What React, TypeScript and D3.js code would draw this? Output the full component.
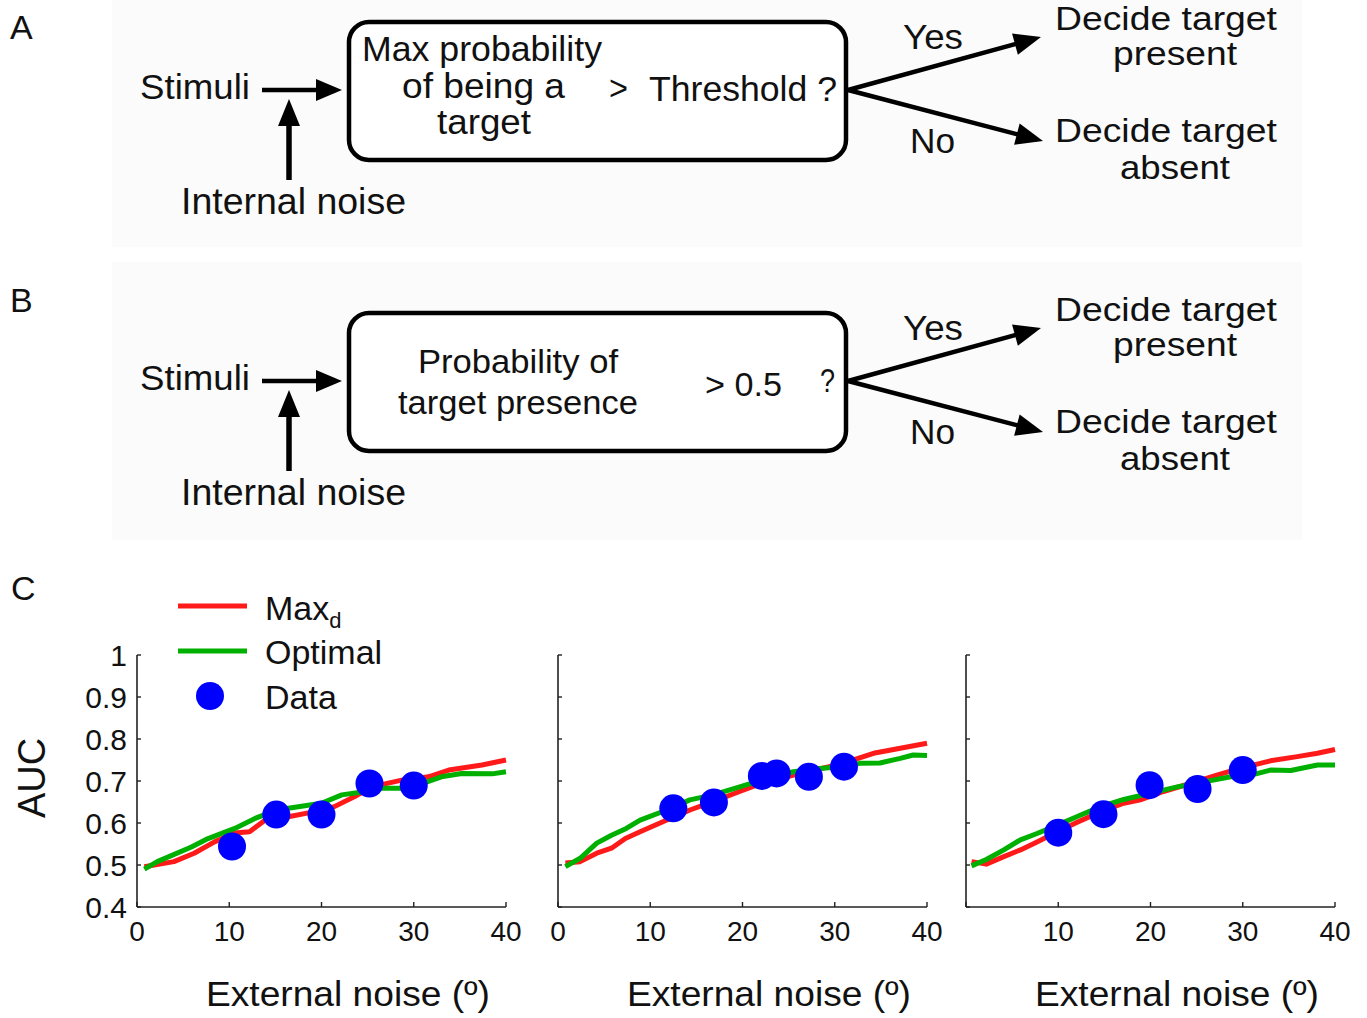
import React from "react";
import * as d3 from "d3";

// ---------- Panel C data (External noise in degrees, AUC) ----------
const xTicks = [0, 10, 20, 30, 40];
const yTicks = [0.4, 0.5, 0.6, 0.7, 0.8, 0.9, 1];
const yTickLabels = ["0.4", "0.5", "0.6", "0.7", "0.8", "0.9", "1"];

// Panel 1
const redX1 = [0.8, 4, 6.2, 8.4, 10.6, 12.2, 14.2, 16.4, 19.3, 21.4, 23.6, 25.4, 28.7, 31.6, 33.8, 37.4, 40];
const redY1 = [0.496, 0.508, 0.528, 0.555, 0.576, 0.579, 0.612, 0.615, 0.627, 0.639, 0.663, 0.686, 0.702, 0.71, 0.726, 0.738, 0.75];
const greenX1 = [0.8, 2.2, 5.9, 7.7, 10.6, 12.8, 14.2, 16.4, 20, 22.2, 24.4, 26.5, 28.7, 30.9, 33, 35.2, 38.5, 40];
const greenY1 = [0.49, 0.508, 0.543, 0.563, 0.587, 0.611, 0.623, 0.635, 0.647, 0.667, 0.674, 0.683, 0.683, 0.694, 0.71, 0.718, 0.717, 0.722];
const dataX1 = [10.3, 15.1, 20.0, 25.2, 30.0];
const dataY1 = [0.544, 0.62, 0.62, 0.694, 0.689];

// Panel 2
const redX2 = [0.8, 2.4, 4.2, 5.8, 7.3, 8.9, 11.8, 14.3, 16.8, 19.7, 21.5, 24.8, 27.7, 30.6, 34.2, 37.1, 40];
const redY2 = [0.505, 0.508, 0.528, 0.54, 0.563, 0.579, 0.607, 0.631, 0.651, 0.675, 0.69, 0.71, 0.726, 0.74, 0.766, 0.778, 0.79];
const greenX2 = [0.8, 2.4, 4.2, 5.8, 7.4, 8.9, 11.8, 14.3, 16.8, 19.7, 22.6, 25.5, 28.4, 30.6, 32.7, 34.9, 37.1, 38.5, 40];
const greenY2 = [0.496, 0.516, 0.552, 0.571, 0.587, 0.607, 0.631, 0.655, 0.667, 0.686, 0.706, 0.722, 0.73, 0.734, 0.742, 0.743, 0.754, 0.762, 0.761];
const dataX2 = [12.5, 16.9, 22.1, 23.7, 27.2, 31.0];
const dataY2 = [0.635, 0.649, 0.712, 0.718, 0.71, 0.734];

// Panel 3
const redX3 = [0.6, 2.2, 4.1, 5.9, 7.7, 9.9, 12.0, 14.6, 17.1, 18.9, 21.4, 24.3, 27.2, 29.7, 33, 35.9, 38.1, 40];
const redY3 = [0.508, 0.502, 0.52, 0.536, 0.555, 0.579, 0.601, 0.627, 0.647, 0.655, 0.675, 0.694, 0.714, 0.73, 0.748, 0.758, 0.766, 0.775];
const greenX3 = [0.6, 2.2, 4.1, 5.9, 7.7, 9.9, 12.0, 14.6, 17.1, 20, 22.9, 25.8, 28.7, 30.9, 33, 35.2, 38.1, 40];
const greenY3 = [0.498, 0.513, 0.536, 0.56, 0.575, 0.595, 0.615, 0.639, 0.656, 0.671, 0.686, 0.698, 0.71, 0.714, 0.726, 0.725, 0.738, 0.738];
const dataX3 = [10.0, 14.9, 19.9, 25.1, 30.0];
const dataY3 = [0.577, 0.621, 0.69, 0.681, 0.726];

const legendLabels = ["Max", "Optimal", "Data"];

const FONT = "'Liberation Sans', Arial, Helvetica, sans-serif";
const RED = "#ff1a1a";
const GREEN = "#00b000";
const BLUE = "#0000ff";

const panels = [
  { x0: 137, rx: redX1, ry: redY1, gx: greenX1, gy: greenY1, dx: dataX1, dy: dataY1, yLabels: true, showZero: true },
  { x0: 558, rx: redX2, ry: redY2, gx: greenX2, gy: greenY2, dx: dataX2, dy: dataY2, yLabels: false, showZero: true },
  { x0: 966, rx: redX3, ry: redY3, gx: greenX3, gy: greenY3, dx: dataX3, dy: dataY3, yLabels: false, showZero: false },
];

const PW = 369;
const Y_TOP = 655;
const Y_BOT = 907;

function Arrow({ x1, y1, x2, y2, w = 4.5, hl = 26, hw = 11 }: any) {
  const dx = x2 - x1, dy = y2 - y1;
  const L = Math.sqrt(dx * dx + dy * dy);
  const ux = dx / L, uy = dy / L;
  const bx = x2 - ux * hl, by = y2 - uy * hl;
  const px = -uy, py = ux;
  const pts = [
    [x2, y2],
    [bx + px * hw, by + py * hw],
    [bx - px * hw, by - py * hw],
  ];
  return (
    <g>
      <line x1={x1} y1={y1} x2={bx + ux * 2} y2={by + uy * 2} stroke="#000" strokeWidth={w} />
      <polygon points={pts.map((p) => p.join(",")).join(" ")} fill="#000" />
    </g>
  );
}

function T({ x, y, s = 35, tl, children, anchor }: any) {
  return (
    <text
      x={x}
      y={y}
      fontSize={s}
      fontFamily={FONT}
      fill="#111"
      textLength={tl}
      lengthAdjust={tl ? "spacingAndGlyphs" : undefined}
      textAnchor={anchor}
    >
      {children}
    </text>
  );
}

function Diagram({ off, variant }: { off: number; variant: "A" | "B" }) {
  return (
    <g>
      <rect x={112} y={variant === "A" ? 0 : 262} width={1190} height={variant === "A" ? 247 : 278} fill="#fbfbfb" />
      <T x={10} y={39 + off - (variant === "B" ? 18 : 0)} s={34}>{variant}</T>
      <T x={140} y={99 + off} tl={110}>Stimuli</T>
      <Arrow x1={262} y1={90 + off} x2={342} y2={90 + off} hl={26} hw={11} />
      <Arrow x1={289} y1={180 + off} x2={289} y2={99 + off} w={5.5} hl={27} hw={11} />
      <T x={181} y={214 + off} s={36} tl={225}>Internal noise</T>
      <rect x={349} y={22 + off} width={497} height={138} rx={20} ry={20} fill="#fff" stroke="#000" strokeWidth={4.5} />
      {variant === "A" ? (
        <g>
          <T x={362} y={61} tl={240}>Max probability</T>
          <T x={402} y={98} tl={163}>of being a</T>
          <T x={437} y={134} tl={94}>target</T>
          <T x={609} y={100} tl={19}>&gt;</T>
          <T x={649} y={101} tl={188}>Threshold ?</T>
        </g>
      ) : (
        <g>
          <T x={418} y={373} s={34} tl={200}>Probability of</T>
          <T x={398} y={414} s={34} tl={240}>target presence</T>
          <T x={705} y={396} s={33} tl={77}>&gt; 0.5</T>
          <T x={820} y={392} s={33} tl={15}>?</T>
        </g>
      )}
      <Arrow x1={848} y1={90 + off} x2={1041} y2={37 + off} hl={27} hw={11} />
      <Arrow x1={848} y1={90 + off} x2={1043} y2={141 + off} hl={27} hw={11} />
      <T x={903} y={49 + off} tl={60}>Yes</T>
      <T x={910} y={153 + off} tl={45}>No</T>
      <T x={1055} y={30 + off} s={34} tl={222}>Decide target</T>
      <T x={1113} y={65 + off} s={34} tl={124}>present</T>
      <T x={1055} y={142 + off} s={34} tl={222}>Decide target</T>
      <T x={1120} y={179 + off} s={34} tl={110}>absent</T>
    </g>
  );
}

function Panel({ p }: any) {
  const x = d3.scaleLinear().domain([0, 40]).range([p.x0, p.x0 + PW]);
  const y = d3.scaleLinear().domain([0.4, 1]).range([Y_BOT, Y_TOP]);
  const mk = (xs: number[], ys: number[]) =>
    d3
      .line<number>()
      .x((v) => x(v))
      .y((_, i) => y(ys[i]))
      .curve(d3.curveLinear)(xs) as string;
  return (
    <g>
      {/* axes */}
      <line x1={x(0)} y1={y(0.4)} x2={x(0)} y2={y(1)} stroke="#222" strokeWidth={1.6} />
      <line x1={x(0)} y1={y(0.4)} x2={x(40)} y2={y(0.4)} stroke="#222" strokeWidth={1.6} />
      {yTicks.map((t) => (
        <line key={"yt" + t} x1={x(0)} x2={x(0) + 4} y1={y(t)} y2={y(t)} stroke="#222" strokeWidth={1.4} />
      ))}
      {xTicks.map((t) => (
        <line key={"xt" + t} x1={x(t)} x2={x(t)} y1={y(0.4)} y2={y(0.4) - 5} stroke="#222" strokeWidth={1.4} />
      ))}
      {p.yLabels &&
        yTicks.map((t, i) => (
          <text key={"yl" + t} x={x(0) - 10} y={y(t)} dy="0.36em" textAnchor="end" fontSize={30} fontFamily={FONT} fill="#111">
            {yTickLabels[i]}
          </text>
        ))}
      {xTicks.map((t) =>
        t === 0 && !p.showZero ? null : (
          <text key={"xl" + t} x={x(t)} y={941} textAnchor="middle" fontSize={28} fontFamily={FONT} fill="#111">
            {String(t)}
          </text>
        )
      )}
      <text x={p.x0 + 211} y={1006} textAnchor="middle" fontSize={35} fontFamily={FONT} fill="#111" textLength={284} lengthAdjust="spacingAndGlyphs">
        External noise (º)
      </text>
      {/* model curves */}
      <path d={mk(p.rx, p.ry)} fill="none" stroke={RED} strokeWidth={5} strokeLinejoin="round" />
      <path d={mk(p.gx, p.gy)} fill="none" stroke={GREEN} strokeWidth={5} strokeLinejoin="round" />
      {/* data */}
      {p.dx.map((v: number, i: number) => (
        <circle key={"d" + i} cx={x(v)} cy={y(p.dy[i])} r={14} fill={BLUE} />
      ))}
    </g>
  );
}

export default function App() {
  return (
    <svg
      width={1367}
      height={1018}
      viewBox="0 0 1367 1018"
      style={{ position: "absolute", left: 0, top: 0, background: "#fff" }}
    >
      <rect x={0} y={0} width={1367} height={1018} fill="#fff" />
      <Diagram off={0} variant="A" />
      <Diagram off={291} variant="B" />

      {/* Panel C */}
      <text x={11} y={600} fontSize={34} fontFamily={FONT} fill="#111">C</text>
      <text transform="translate(45,778) rotate(-90)" textAnchor="middle" fontSize={38} fontFamily={FONT} fill="#111">
        AUC
      </text>
      {panels.map((p, i) => (
        <Panel key={i} p={p} />
      ))}

      {/* Legend */}
      <line x1={178} x2={247} y1={606} y2={606} stroke={RED} strokeWidth={5} />
      <line x1={178} x2={247} y1={651} y2={651} stroke={GREEN} strokeWidth={5} />
      <circle cx={210} cy={696} r={14} fill={BLUE} />
      <text x={265} y={620} fontSize={34} fontFamily={FONT} fill="#111">
        {legendLabels[0]}
        <tspan fontSize={22} dy={8}>d</tspan>
      </text>
      <text x={265} y={664} fontSize={34} fontFamily={FONT} fill="#111">{legendLabels[1]}</text>
      <text x={265} y={709} fontSize={34} fontFamily={FONT} fill="#111">{legendLabels[2]}</text>
    </svg>
  );
}
